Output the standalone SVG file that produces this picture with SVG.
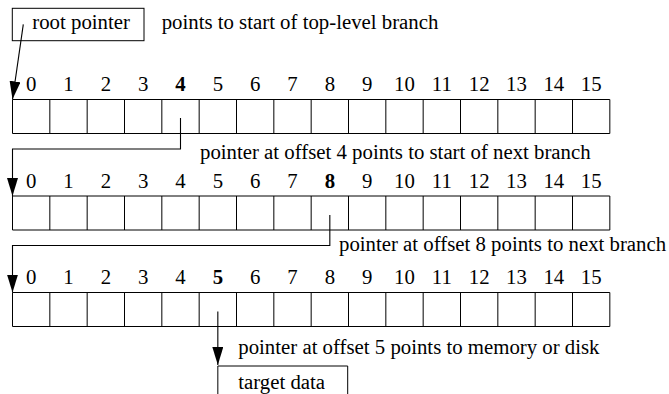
<svg xmlns="http://www.w3.org/2000/svg" xmlns:xlink="http://www.w3.org/1999/xlink" width="669" height="394" viewBox="0 0 669 394" font-family="Liberation Serif, serif" font-size="20.8">
<style>
  .idx { text-anchor: middle; }
  .b { font-weight: bold; }
  .ln { fill: none; stroke: #000; stroke-width: 1; }
  .wire { fill: none; stroke: #000; stroke-width: 1.1; }
</style>
<defs>
  <marker id="ah" markerUnits="userSpaceOnUse" markerWidth="19" markerHeight="12" refX="18" refY="5.5" orient="auto">
    <path d="M0,0 L18,5.5 L0,11 z" fill="#000"/>
  </marker>
  <g id="grid">
    <path class="ln" d="M12.5,0 H609.83 V34 H12.5 Z M49.83,0 V34 M87.17,0 V34 M124.5,0 V34 M161.83,0 V34 M199.17,0 V34 M236.5,0 V34 M273.83,0 V34 M311.17,0 V34 M348.5,0 V34 M385.83,0 V34 M423.17,0 V34 M460.5,0 V34 M497.83,0 V34 M535.17,0 V34 M572.5,0 V34"/>
  </g>
</defs>
<rect width="669" height="394" fill="#fff"/>

<g id="root-pointer" font-family="Liberation Serif, serif">
  <rect class="ln" x="12.3" y="8.3" width="131.7" height="32.4"/>
  <text x="32.3" y="29">root pointer</text>
  <text x="161.7" y="29">points to start of top-level branch</text>
</g>

<g id="branch-1" font-family="Liberation Serif, serif">
  <use xlink:href="#grid" y="99.5"/>
  <g class="idx" text-anchor="middle">
    <text x="31.17" y="91">0</text><text x="68.5" y="91">1</text><text x="105.83" y="91">2</text><text x="143.17" y="91">3</text>
    <text class="b" x="180.5" y="91">4</text><text x="217.83" y="91">5</text><text x="255.17" y="91">6</text><text x="292.5" y="91">7</text>
    <text x="329.83" y="91">8</text><text x="367.17" y="91">9</text><text x="404.5" y="91">10</text><text x="441.83" y="91">11</text>
    <text x="479.17" y="91">12</text><text x="516.5" y="91">13</text><text x="553.83" y="91">14</text><text x="591.17" y="91">15</text>
  </g>
  <text x="200" y="158.5">pointer at offset 4 points to start of next branch</text>
</g>

<g id="branch-2" font-family="Liberation Serif, serif">
  <use xlink:href="#grid" y="196"/>
  <g class="idx" text-anchor="middle">
    <text x="31.17" y="187.5">0</text><text x="68.5" y="187.5">1</text><text x="105.83" y="187.5">2</text><text x="143.17" y="187.5">3</text>
    <text x="180.5" y="187.5">4</text><text x="217.83" y="187.5">5</text><text x="255.17" y="187.5">6</text><text x="292.5" y="187.5">7</text>
    <text class="b" x="329.83" y="187.5">8</text><text x="367.17" y="187.5">9</text><text x="404.5" y="187.5">10</text><text x="441.83" y="187.5">11</text>
    <text x="479.17" y="187.5">12</text><text x="516.5" y="187.5">13</text><text x="553.83" y="187.5">14</text><text x="591.17" y="187.5">15</text>
  </g>
  <text x="339" y="251">pointer at offset 8 points to next branch</text>
</g>

<g id="branch-3" font-family="Liberation Serif, serif">
  <use xlink:href="#grid" y="292.5"/>
  <g class="idx" text-anchor="middle">
    <text x="31.17" y="284">0</text><text x="68.5" y="284">1</text><text x="105.83" y="284">2</text><text x="143.17" y="284">3</text>
    <text x="180.5" y="284">4</text><text class="b" x="217.83" y="284">5</text><text x="255.17" y="284">6</text><text x="292.5" y="284">7</text>
    <text x="329.83" y="284">8</text><text x="367.17" y="284">9</text><text x="404.5" y="284">10</text><text x="441.83" y="284">11</text>
    <text x="479.17" y="284">12</text><text x="516.5" y="284">13</text><text x="553.83" y="284">14</text><text x="591.17" y="284">15</text>
  </g>
  <text x="238.3" y="353.5">pointer at offset 5 points to memory or disk</text>
</g>

<g id="target-data" font-family="Liberation Serif, serif">
  <path class="ln" d="M217.83,400 V366 H347.7 V400"/>
  <text x="238.3" y="389">target data</text>
</g>

<g id="connectors">
  <path class="wire" d="M23.3,24.3 L12.5,99.3" marker-end="url(#ah)"/>
  <path class="wire" d="M180.5,118 V149 H12.5 V196" marker-end="url(#ah)"/>
  <path class="wire" d="M329.83,215 V245.5 H12.5 V292.5" marker-end="url(#ah)"/>
  <path class="wire" d="M217.83,311.5 V365" marker-end="url(#ah)"/>
</g>
</svg>
